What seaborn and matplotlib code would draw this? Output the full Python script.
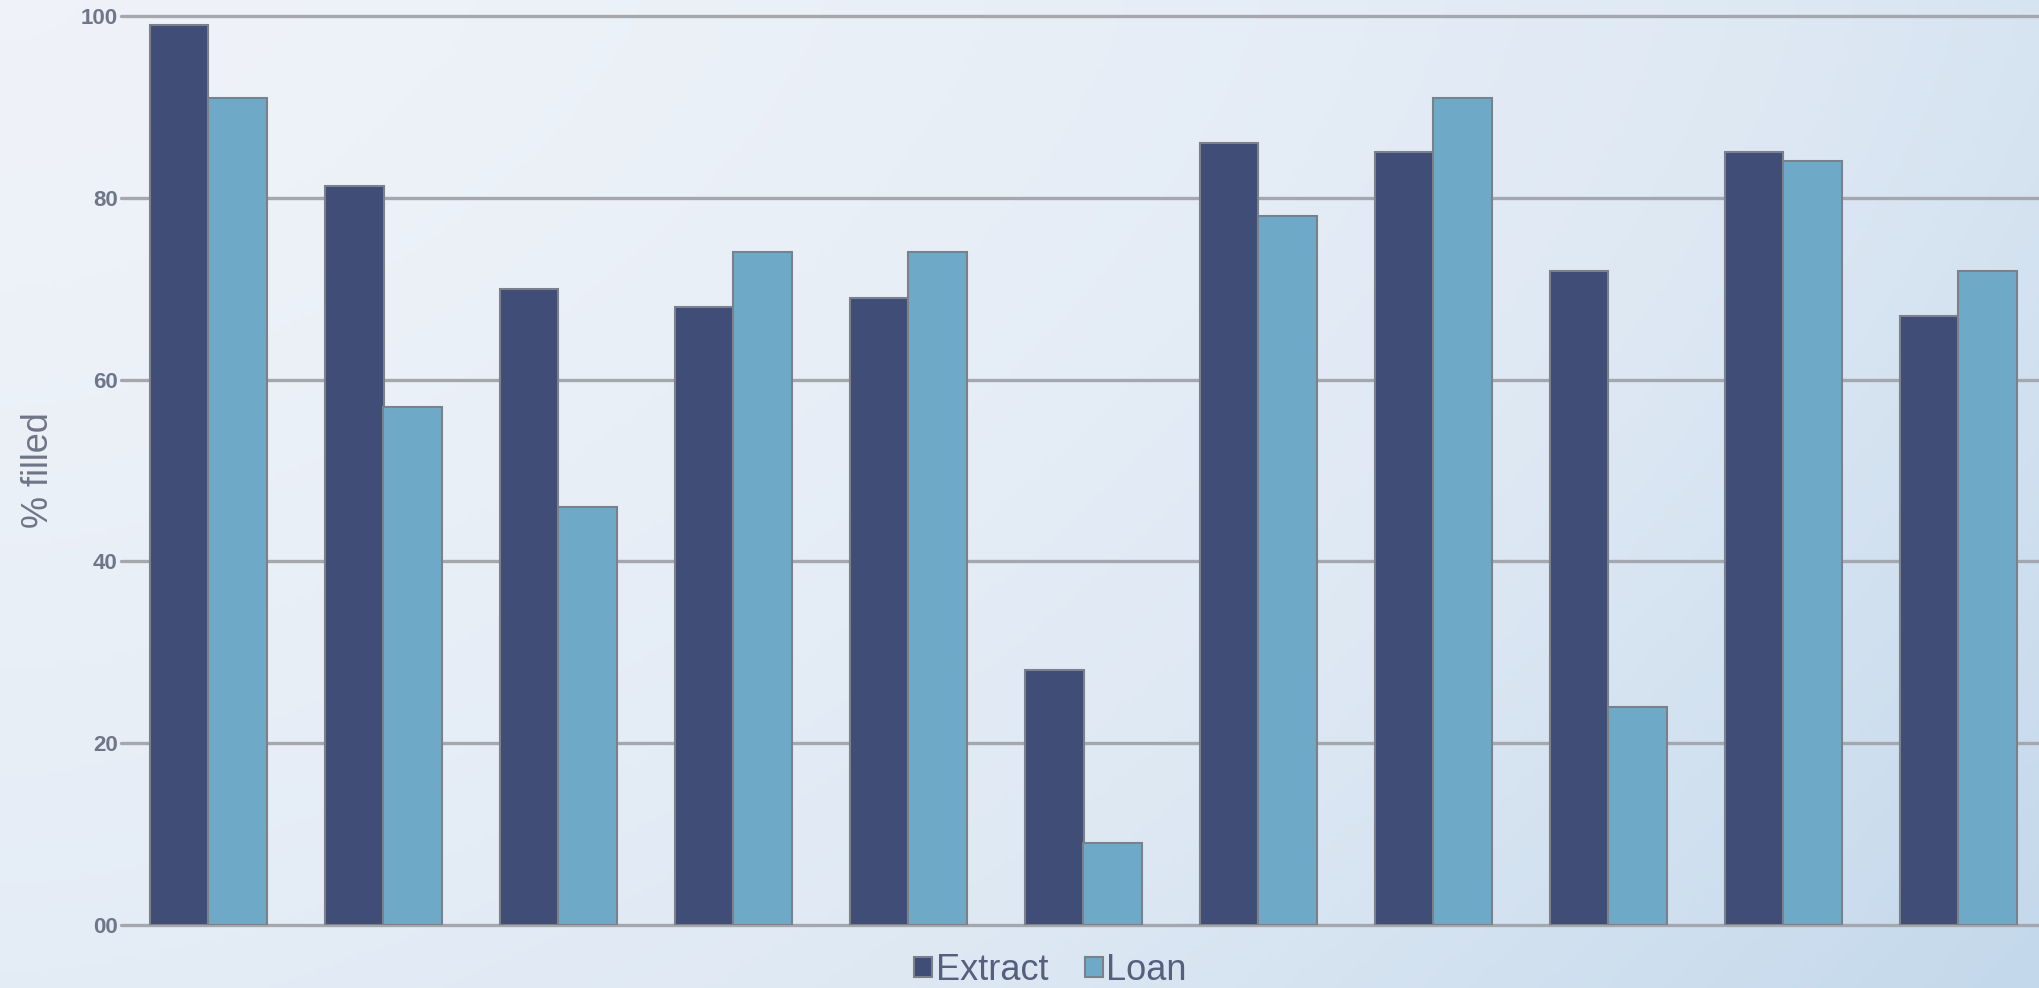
import numpy as np
import pandas as pd
import matplotlib
matplotlib.use("Agg")
import matplotlib.pyplot as plt
from matplotlib.colors import LinearSegmentedColormap
import seaborn as sns

groups = [str(i) for i in range(1, 12)]
extract = [99, 81.3, 70, 68, 69, 28, 86, 85, 72, 85, 67]
loan = [91, 57, 46, 74, 74, 9, 78, 91, 24, 84, 72]
series_names = ["Extract", "Loan"]
yticks = [0, 20, 40, 60, 80, 100]
ytick_labels = ["00", "20", "40", "60", "80", "100"]

df = pd.DataFrame({
    "group": groups * 2,
    "series": [series_names[0]] * len(groups) + [series_names[1]] * len(groups),
    "value": extract + loan,
})

sns.set_style("white")
plt.rcParams['font.family'] = ['Liberation Sans', 'DejaVu Sans']

fig = plt.figure(figsize=(20.4, 9.88), dpi=100)

# diagonal gradient background
bg = fig.add_axes([0, 0, 1, 1], zorder=-10)
xx, yy = np.meshgrid(np.linspace(0, 1, 400), np.linspace(0, 1, 200))
g = (xx ** 1.6 * 0.65 + yy ** 1.4 * 0.35)
cmap = LinearSegmentedColormap.from_list("bg", ["#eff3f9", "#dfe9f4", "#c3d8eb"])
bg.imshow(g, cmap=cmap, aspect="auto", origin="upper", extent=[0, 1, 0, 1])
bg.axis("off")

ax = fig.add_axes([121 / 2040, 63 / 988, (2046 - 121) / 2040, (925 - 16) / 988])
ax.set_facecolor("none")

sns.barplot(data=df, x="group", y="value", hue="series", order=groups,
            palette=["#3f4d77", "#6eaac8"], saturation=1, width=0.669, gap=0,
            edgecolor="#7c8088", linewidth=1.5, ax=ax, zorder=3)

ax.set_xlim(-0.5, len(groups) - 0.5)
ax.set_ylim(0, 100)
ax.set_yticks(yticks)
ax.set_yticklabels(ytick_labels, fontsize=16, fontweight="bold", color="#70768a")
ax.set_xticks([])
ax.set_xlabel("")
ax.set_ylabel("% filled", fontsize=26, color="#6e7587")
ax.yaxis.set_label_coords(-0.034, 0.5)
ax.tick_params(axis="y", length=0, pad=2.5)
ax.yaxis.grid(True, color="#a4a8ae", linewidth=2.4, zorder=0)
ax.set_axisbelow(True)
for s in ax.spines.values():
    s.set_visible(False)
for line in ax.get_ygridlines():
    line.set_clip_on(False)

ax.legend_.remove()
handles, labels = ax.get_legend_handles_labels()
leg = fig.legend(handles, labels, loc="center", bbox_to_anchor=(0.515, 0.018),
                 ncol=2, frameon=False, fontsize=26, handlelength=0.5,
                 handleheight=0.5, handletextpad=0.1, columnspacing=1.0,
                 borderpad=0)
for t in leg.get_texts():
    t.set_color("#56607e")

fig.savefig("out.png", dpi=100)
